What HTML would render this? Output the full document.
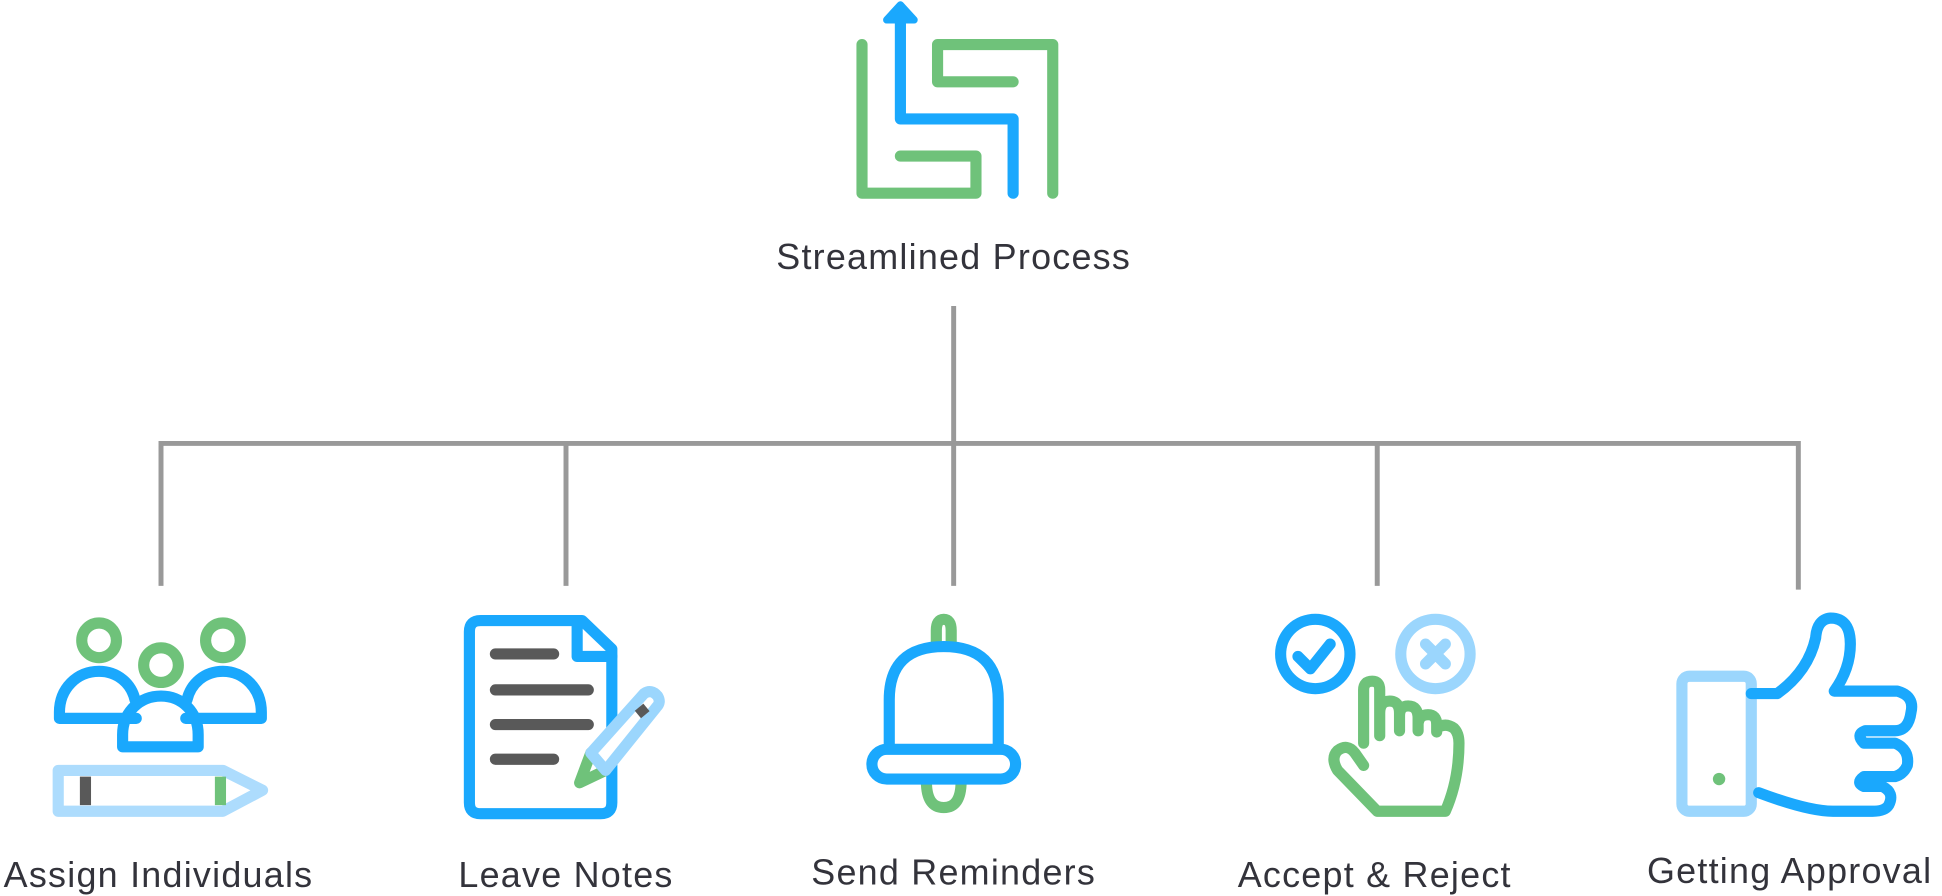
<!DOCTYPE html>
<html><head><style>
html,body{margin:0;padding:0;background:#fff;}
svg{display:block;}
text{font-family:"Liberation Sans",sans-serif;fill:#33333b;font-size:29px;letter-spacing:1px;}
</style></head><body>
<svg width="1942" height="896" viewBox="0 0 1568 723.4" xmlns="http://www.w3.org/2000/svg">
<g fill="none" stroke-linecap="round" stroke-linejoin="round" stroke-width="9">
<path d="M696 36 V156 H788 V126 H727" stroke="#6fc27a"/>
<path d="M818 156 V96 H727 V8" stroke="#1aa8fd"/>
<path d="M716 16 L727 4 L738 16 Z" fill="#1aa8fd" stroke="#1aa8fd" stroke-width="6"/>
<path d="M850 156 V36 H757 V66 H818" stroke="#6fc27a"/>
</g>
<text x="770" y="217" text-anchor="middle">Streamlined Process</text>
<g stroke="#999" stroke-width="4" fill="none">
<path d="M770 247 V358"/>
<path d="M130 473 V358 H1452 V476"/>
<path d="M457 358 V473 M770 358 V473 M1112 358 V473"/>
</g>
<g fill="none" stroke-linecap="round" stroke-linejoin="round" stroke-width="9">
<circle cx="80" cy="517" r="14" stroke="#6fc27a"/>
<circle cx="180" cy="517" r="14" stroke="#6fc27a"/>
<circle cx="130" cy="537" r="14" stroke="#6fc27a"/>
<path d="M110 580 H48 V575 C48 556 62 542 80 542 C95 542 106 552 109 565" stroke="#1aa8fd"/>
<path d="M150 580 H211 V575 C211 556 197 542 180 542 C165 542 154 552 151 565" stroke="#1aa8fd"/>
<path d="M99 603 H160 V593 C160 575 147 562 130 562 C113 562 99 575 99 593 Z" stroke="#1aa8fd"/>
<path d="M47 622 H180 L212 638 L180 655 H47 Z" stroke="#addcfd"/>
<path d="M69 627 V650" stroke="#595959" stroke-linecap="butt"/>
<path d="M178 627 V650" stroke="#6fc27a" stroke-linecap="butt"/>
<path d="M388 501 H470 L494 524 V648 Q494 657 485 657 H388 Q379 657 379 648 V510 Q379 501 388 501 Z" stroke="#1aa8fd"/>
<path d="M466 501 V530 H494" stroke="#1aa8fd"/>
<g stroke="#595959"><path d="M400 528 H447 M400 557 H475 M400 585 H475 M400 613 H447"/></g>
<path d="M477 608 L468 632 L489 622" stroke="#6fc27a"/>
<path d="M477 608 L520 560 Q526 556 531 562 Q534 567 530 571 L489 622 Z" stroke="#9bd6fd" fill="#fff"/>
<path d="M516 571 L521 577" stroke="#595959" stroke-linecap="butt"/>
<path d="M756 519 V509 Q756 500 762 500 Q768 500 768 509 V519" stroke="#6fc27a"/>
<path d="M748 631 Q748 652 762 652 Q776 652 776 631" stroke="#6fc27a"/>
<path d="M718 605 V565 Q718 522 762 522 Q806 522 806 565 V605" stroke="#1aa8fd"/>
<rect x="704" y="605" width="116" height="24" rx="12" stroke="#1aa8fd" fill="#fff"/>
<circle cx="1062" cy="528" r="28" stroke="#1aa8fd"/>
<path d="M1048 530 L1058 540 L1074 520" stroke="#1aa8fd"/>
<circle cx="1159" cy="528" r="28" stroke="#9bd6fd"/>
<path d="M1151 520 L1167 536 M1167 520 L1151 536" stroke="#9bd6fd"/>
<path d="M1101 600 V557 Q1101 550 1108 550 Q1114 550 1114 557 V594 M1114 576 Q1114 566 1122 566 Q1130 566 1130 576 V590 M1130 578 Q1130 570 1137 570 Q1145 570 1145 580 V590 M1145 584 Q1146 577 1153 577 Q1160 577 1160 585 V591 M1160 588 Q1167 583 1174 588 Q1178 592 1178 600 Q1178 630 1167 655 H1112 L1080 622 Q1074 612 1080 606 Q1088 600 1094 608 L1101 618"  stroke="#6fc27a"/>
<rect x="1358" y="546" width="56" height="109" rx="6" stroke="#9bd6fd"/>
<path d="M1414 560 H1435 Q1460 542 1466 515 Q1467 500 1478 499 Q1494 499 1494 520 Q1494 540 1481 558 H1532 Q1546 562 1543 575 Q1541 590 1530 590 H1506 Q1498 593 1505 600 H1530 Q1542 605 1540 618 Q1537 625 1530 627 H1505 Q1498 632 1505 635 H1520 Q1530 640 1525 650 Q1522 655 1512 655 H1480 Q1460 655 1420 640" stroke="#1aa8fd"/>
</g>
<circle cx="1388" cy="629" r="5" fill="#6fc27a"/>
<text x="128" y="716" text-anchor="middle">Assign Individuals</text>
<text x="457" y="716" text-anchor="middle">Leave Notes</text>
<text x="770" y="714" text-anchor="middle">Send Reminders</text>
<text x="1110" y="716" text-anchor="middle">Accept &amp; Reject</text>
<text x="1445" y="713" text-anchor="middle">Getting Approval</text>
</svg>
</body></html>
